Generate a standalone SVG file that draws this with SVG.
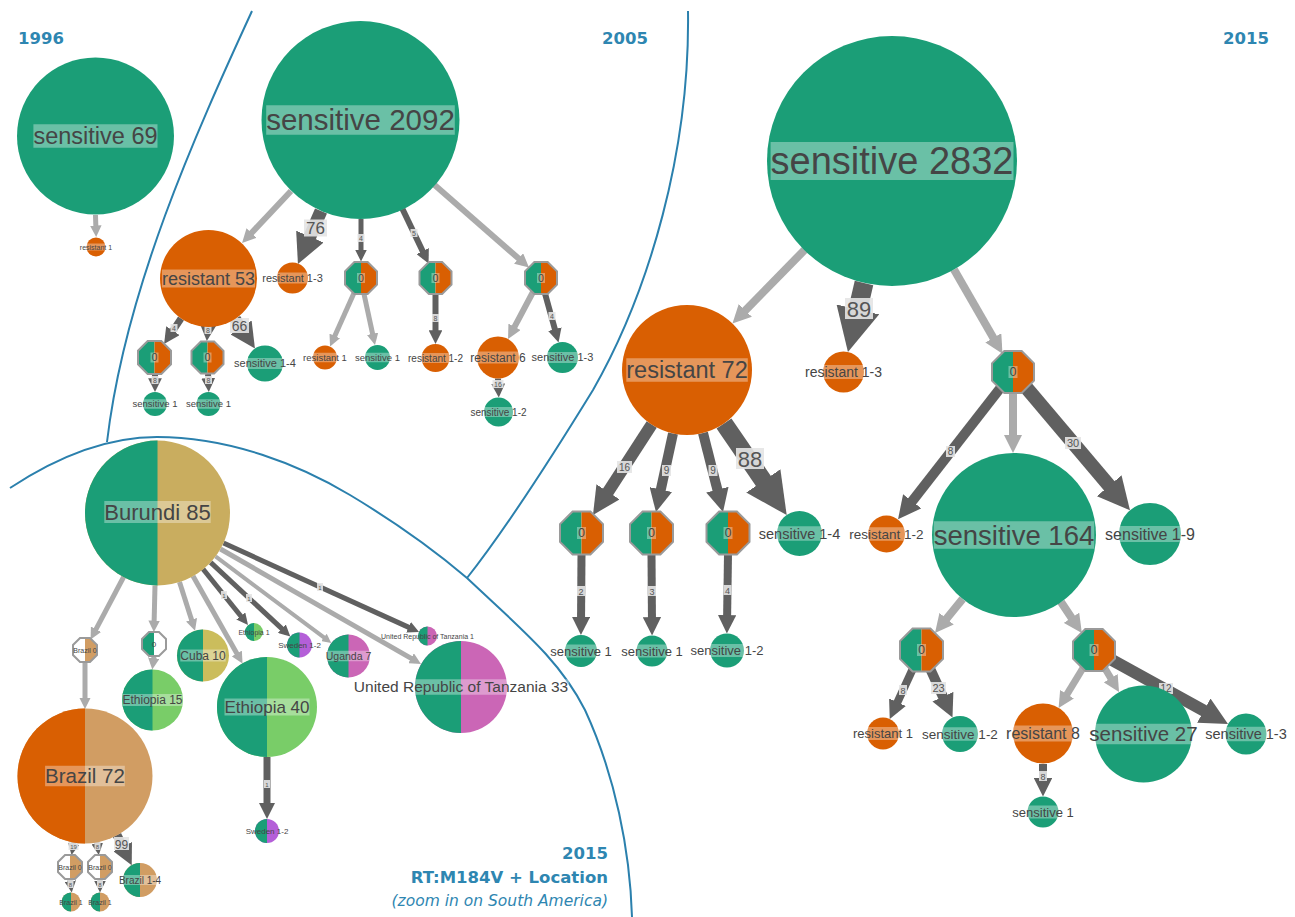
<svg xmlns="http://www.w3.org/2000/svg" xmlns:xlink="http://www.w3.org/1999/xlink" width="1295" height="917" viewBox="0 0 1295 917">
<style>
.g{fill:#1b9e77}.o{fill:#d95f02}.w{fill:#ffffff}.bt{fill:#c9ad5f}.bz{fill:#d19d63}.lg{fill:#79cd68}.cu{fill:#cbbd5c}.tz{fill:#cb66b6}.sw{fill:#b45fd8}
.lab{font-family:"Liberation Sans",Arial,sans-serif;fill:#454545;text-anchor:middle}
.lb{fill:#ffffff;opacity:.35}
.el{stroke:#ababab;fill:none}
.ed{stroke:#606060;fill:none}
.et{font-family:"Liberation Sans",Arial,sans-serif;fill:#555;text-anchor:middle}
.eb{fill:#e4e4e4;opacity:.9}
.yr{font-family:"DejaVu Sans",sans-serif;font-weight:bold;fill:#2e86b1;font-size:16.5px}
.yi{font-family:"DejaVu Sans",sans-serif;font-style:italic;fill:#2e86b1;font-size:15.5px}
.div{stroke:#2b80ad;stroke-width:2;fill:none}
</style>
<defs>
<marker id="mL" viewBox="0 0 10 10" refX="5" refY="5" markerWidth="2.3" markerHeight="2.3" orient="auto" markerUnits="strokeWidth"><path d="M0,0L10,5L0,10z" fill="#ababab"/></marker>
<marker id="mD" viewBox="0 0 10 10" refX="5" refY="5" markerWidth="2.3" markerHeight="2.3" orient="auto" markerUnits="strokeWidth"><path d="M0,0L10,5L0,10z" fill="#606060"/></marker>
<polygon id="octL" points="0,-1 -0.414,-1 -1,-0.414 -1,0.414 -0.414,1 0,1"/>
<polygon id="octR" points="0,-1 0.414,-1 1,-0.414 1,0.414 0.414,1 0,1"/>
<polygon id="octO" points="-0.414,-1 0.414,-1 1,-0.414 1,0.414 0.414,1 -0.414,1 -1,0.414 -1,-0.414" fill="none" stroke="#9a9a9a" stroke-width="2" vector-effect="non-scaling-stroke"/>
</defs>
<rect width="1295" height="917" fill="#ffffff"/>

<g id="dividers">
<path class="div" d="M252,11 C195,135 125,290 107,442"/>
<path class="div" d="M688,11 C690,150 650,290 593,390 C550,460 505,530 467,578"/>
<path class="div" d="M10,488 C60,455 110,437 157,437 C230,437 300,465 350,495 C400,525 440,555 467,578 C520,628 560,660 585,710 C615,775 630,850 632,917"/>
</g>

<g id="titles">
<text class="yr" x="18" y="44">1996</text>
<text class="yr" x="648" y="44" text-anchor="end">2005</text>
<text class="yr" x="1269" y="44" text-anchor="end">2015</text>
<text class="yr" x="608" y="859" text-anchor="end">2015</text>
<text class="yr" x="608" y="883" text-anchor="end">RT:M184V + Location</text>
<text class="yi" x="608" y="906" text-anchor="end">(zoom in on South America)</text>
</g>

<g id="connectors">
<g marker-end="url(#mL)">
<line class="el" x1="95.5" y1="215" x2="96" y2="231.2" stroke-width="5"/>
<line class="el" x1="291" y1="191" x2="246.8" y2="238" stroke-width="6"/>
<line class="el" x1="434.6" y1="185" x2="523.8" y2="263" stroke-width="6"/>
<line class="el" x1="354" y1="293" x2="332.4" y2="341.2" stroke-width="5"/>
<line class="el" x1="364" y1="294" x2="373.8" y2="339.4" stroke-width="5"/>
<line class="el" x1="533" y1="292" x2="511.3" y2="332.9" stroke-width="6"/>
<line class="el" x1="804.5" y1="250" x2="738.9" y2="317" stroke-width="8"/>
<line class="el" x1="954" y1="269.5" x2="997.9" y2="345.8" stroke-width="8"/>
<line class="el" x1="1013" y1="393" x2="1013" y2="443.8" stroke-width="8"/>
<line class="el" x1="962.6" y1="599" x2="940.8" y2="625.8" stroke-width="8"/>
<line class="el" x1="1061" y1="602" x2="1076.7" y2="625.4" stroke-width="8"/>
<line class="el" x1="1083" y1="668" x2="1062.8" y2="701.1" stroke-width="7"/>
<line class="el" x1="1104.7" y1="668" x2="1114.9" y2="685.1" stroke-width="7"/>
<line class="el" x1="123.6" y1="577" x2="93.3" y2="634.3" stroke-width="5"/>
<line class="el" x1="85" y1="662" x2="85" y2="703.3" stroke-width="5"/>
<line class="el" x1="155" y1="585.5" x2="154" y2="626.3" stroke-width="5"/>
<line class="el" x1="154" y1="656" x2="153" y2="663.8" stroke-width="5"/>
<line class="el" x1="179.5" y1="582" x2="193.3" y2="625.2" stroke-width="5"/>
<line class="el" x1="193" y1="576" x2="239.7" y2="658.5" stroke-width="5"/>
<line class="el" x1="215.5" y1="556.4" x2="327.6" y2="640.2" stroke-width="4"/>
<line class="el" x1="220.4" y1="549" x2="416" y2="661.1" stroke-width="5"/>
</g>
<g marker-end="url(#mD)">
<line class="ed" x1="321" y1="211" x2="303.9" y2="250.3" stroke-width="13"/>
<line class="ed" x1="361" y1="219" x2="361" y2="255.8" stroke-width="5"/>
<line class="ed" x1="402.5" y1="209" x2="425.6" y2="257.3" stroke-width="6"/>
<line class="ed" x1="435.5" y1="294" x2="435.5" y2="337.1" stroke-width="6"/>
<line class="ed" x1="545" y1="293.5" x2="556.7" y2="335.8" stroke-width="6"/>
<line class="ed" x1="498" y1="378.5" x2="498.5" y2="390.6" stroke-width="6"/>
<line class="ed" x1="181" y1="318.5" x2="168.5" y2="337.4" stroke-width="7"/>
<line class="ed" x1="208" y1="327" x2="207.5" y2="333" stroke-width="7"/>
<line class="ed" x1="235.5" y1="319" x2="248" y2="338" stroke-width="11"/>
<line class="ed" x1="155" y1="374" x2="155" y2="385.1" stroke-width="6"/>
<line class="ed" x1="208" y1="374" x2="208.5" y2="385.1" stroke-width="6"/>
<line class="ed" x1="864" y1="283" x2="852.9" y2="330.7" stroke-width="19"/>
<line class="ed" x1="1000" y1="388.5" x2="905.1" y2="510.3" stroke-width="10"/>
<line class="ed" x1="1026.6" y1="388" x2="1119.6" y2="498" stroke-width="14"/>
<line class="ed" x1="651.7" y1="424.6" x2="600.5" y2="503.4" stroke-width="12"/>
<line class="ed" x1="673" y1="433.5" x2="658.4" y2="500.8" stroke-width="10"/>
<line class="ed" x1="703" y1="433" x2="720.2" y2="500.8" stroke-width="10"/>
<line class="ed" x1="724" y1="423.5" x2="775" y2="498" stroke-width="18"/>
<line class="ed" x1="581.5" y1="554" x2="581" y2="625.8" stroke-width="8"/>
<line class="ed" x1="651.5" y1="554" x2="652" y2="626.3" stroke-width="8"/>
<line class="ed" x1="728" y1="554" x2="727" y2="624.3" stroke-width="8"/>
<line class="ed" x1="912.5" y1="669.5" x2="893.6" y2="710.6" stroke-width="8"/>
<line class="ed" x1="930.5" y1="669.5" x2="947.7" y2="707.1" stroke-width="10"/>
<line class="ed" x1="1112" y1="660" x2="1215.9" y2="717.3" stroke-width="12"/>
<line class="ed" x1="1043" y1="764" x2="1043" y2="787.3" stroke-width="8"/>
<line class="ed" x1="203" y1="569" x2="244.4" y2="620.5" stroke-width="5"/>
<line class="ed" x1="210.6" y1="562.4" x2="286.1" y2="632.6" stroke-width="5"/>
<line class="ed" x1="223.5" y1="543" x2="413.8" y2="629.6" stroke-width="5"/>
<line class="ed" x1="267" y1="757" x2="267" y2="811" stroke-width="7"/>
<line class="ed" x1="74" y1="842" x2="72.6" y2="849.3" stroke-width="5"/>
<line class="ed" x1="97" y1="842" x2="98" y2="849.3" stroke-width="5"/>
<line class="ed" x1="117" y1="835" x2="127.2" y2="855.9" stroke-width="9"/>
<line class="ed" x1="70" y1="879" x2="71" y2="886.8" stroke-width="5"/>
<line class="ed" x1="100" y1="879" x2="100" y2="886.8" stroke-width="5"/>
</g>
<g id="edge-labels">
<rect class="eb" x="304" y="219.5" width="23" height="17"/><text class="et" x="315.5" y="234" font-size="17">76</text>
<rect class="eb" x="230" y="318" width="19" height="15"/><text class="et" x="239.5" y="330.5" font-size="14">66</text>
<rect class="eb" x="845" y="298" width="28" height="21"/><text class="et" x="859" y="316.5" font-size="22">89</text>
<rect class="eb" x="736" y="448" width="28" height="21"/><text class="et" x="750" y="466.5" font-size="22">88</text>
<rect class="eb" x="114" y="837" width="15" height="13"/><text class="et" x="121.5" y="848.5" font-size="12">99</text>
<rect class="eb" x="357.5" y="234" width="7" height="8"/><text class="et" x="361" y="240.5" font-size="7">4</text>
<rect class="eb" x="410.5" y="229" width="7" height="8"/><text class="et" x="414" y="235.5" font-size="7">5</text>
<rect class="eb" x="432" y="314" width="7" height="8"/><text class="et" x="435.5" y="320.5" font-size="7">8</text>
<rect class="eb" x="548.5" y="312" width="7" height="8"/><text class="et" x="552" y="318.5" font-size="7">4</text>
<rect class="eb" x="492.5" y="380" width="11" height="8"/><text class="et" x="498" y="386.5" font-size="7">16</text>
<rect class="eb" x="170.5" y="324" width="7" height="8"/><text class="et" x="174" y="330.5" font-size="7">4</text>
<rect class="eb" x="204.5" y="326" width="7" height="8"/><text class="et" x="208" y="332.5" font-size="7">8</text>
<rect class="eb" x="151.5" y="376" width="7" height="8"/><text class="et" x="155" y="382.5" font-size="7">8</text>
<rect class="eb" x="205" y="376" width="7" height="8"/><text class="et" x="208.5" y="382.5" font-size="7">8</text>
<rect class="eb" x="946" y="446" width="9" height="11"/><text class="et" x="950.5" y="455" font-size="10">8</text>
<rect class="eb" x="1065" y="437" width="16" height="12"/><text class="et" x="1073" y="447" font-size="11">30</text>
<rect class="eb" x="617" y="461" width="15" height="12"/><text class="et" x="624.5" y="471" font-size="10">16</text>
<rect class="eb" x="662" y="465" width="9" height="11"/><text class="et" x="666.5" y="474" font-size="10">9</text>
<rect class="eb" x="708.5" y="465" width="9" height="11"/><text class="et" x="713" y="474" font-size="10">9</text>
<rect class="eb" x="577" y="586" width="8" height="10"/><text class="et" x="581" y="594.5" font-size="9">2</text>
<rect class="eb" x="648" y="586" width="8" height="10"/><text class="et" x="652" y="594.5" font-size="9">3</text>
<rect class="eb" x="723.5" y="585" width="8" height="10"/><text class="et" x="727.5" y="593.5" font-size="9">4</text>
<rect class="eb" x="899" y="685" width="8" height="10"/><text class="et" x="903" y="693.5" font-size="9">8</text>
<rect class="eb" x="931" y="682" width="15" height="12"/><text class="et" x="938.5" y="692" font-size="11">23</text>
<rect class="eb" x="1159" y="683" width="14" height="11"/><text class="et" x="1166" y="692" font-size="10">12</text>
<rect class="eb" x="1039" y="771" width="8" height="10"/><text class="et" x="1043" y="779.5" font-size="9">8</text>
<rect class="eb" x="221" y="591" width="6" height="8"/><text class="et" x="224" y="597.5" font-size="6">1</text>
<rect class="eb" x="246" y="594" width="6" height="8"/><text class="et" x="249" y="600.5" font-size="6">1</text>
<rect class="eb" x="317" y="583" width="6" height="8"/><text class="et" x="320" y="589.5" font-size="6">1</text>
<rect class="eb" x="264" y="780" width="6" height="8"/><text class="et" x="267" y="786.5" font-size="6">1</text>
<rect class="eb" x="68.5" y="842" width="10" height="8"/><text class="et" x="73.5" y="848.5" font-size="6">19</text>
<rect class="eb" x="94.5" y="842" width="6" height="8"/><text class="et" x="97.5" y="848.5" font-size="6">8</text>
<rect class="eb" x="67.5" y="880" width="6" height="8"/><text class="et" x="70.5" y="886.5" font-size="6">8</text>
<rect class="eb" x="97" y="880" width="6" height="8"/><text class="et" x="100" y="886.5" font-size="6">8</text>
</g>
</g>

<g id="nodes">
<!-- 1996 -->
<g id="n1996-s69"><circle class="g" cx="95.5" cy="136" r="78.5"/><rect class="lb" x="33.4" y="124.25" width="124.1" height="23.5"/><text class="lab" x="95.5" y="144.2" font-size="23.5">sensitive 69</text></g>
<g id="n1996-r1"><circle class="o" cx="96" cy="247" r="9.5"/><rect class="lb" x="79.9" y="243.5" width="32.3" height="7"/><text class="lab" x="96" y="249.5" font-size="7">resistant 1</text></g>

<!-- 2005 -->
<g id="n2005-s2092"><circle class="g" cx="360.5" cy="120" r="99"/><rect class="lb" x="266.2" y="105.25" width="188.6" height="29.5"/><text class="lab" x="360.5" y="130.3" font-size="29.5">sensitive 2092</text></g>
<g id="n2005-r53"><circle class="o" cx="208.5" cy="278.5" r="48.5"/><rect class="lb" x="162" y="269.5" width="93" height="18"/><text class="lab" x="208.5" y="284.8" font-size="18">resistant 53</text></g>
<g id="n2005-r13"><circle class="o" cx="292.5" cy="278" r="15.5"/><rect class="lb" x="262.2" y="272.5" width="60.5" height="11"/><text class="lab" x="292.5" y="281.9" font-size="11">resistant 1-3</text></g>
<g id="n2005-octA"><use href="#octL" class="g" transform="translate(361,278) scale(16)"/><use href="#octR" class="o" transform="translate(361,278) scale(16)"/><use href="#octO" transform="translate(361,278) scale(16)"/><rect class="lb" x="357" y="273" width="8" height="10"/><text class="lab" x="361" y="281.5" font-size="10">0</text></g>
<g id="n2005-octB"><use href="#octL" class="g" transform="translate(435.5,278) scale(16)"/><use href="#octR" class="o" transform="translate(435.5,278) scale(16)"/><use href="#octO" transform="translate(435.5,278) scale(16)"/><rect class="lb" x="431.5" y="273" width="8" height="10"/><text class="lab" x="435.5" y="281.5" font-size="10">0</text></g>
<g id="n2005-octC"><use href="#octL" class="g" transform="translate(541,278) scale(16)"/><use href="#octR" class="o" transform="translate(541,278) scale(16)"/><use href="#octO" transform="translate(541,278) scale(16)"/><rect class="lb" x="537" y="273" width="8" height="10"/><text class="lab" x="541" y="281.5" font-size="10">0</text></g>
<g id="n2005-r1"><circle class="o" cx="325" cy="357.5" r="12"/><rect class="lb" x="303.1" y="352.75" width="43.8" height="9.5"/><text class="lab" x="325" y="360.8" font-size="9.5">resistant 1</text></g>
<g id="n2005-s1a"><circle class="g" cx="377.5" cy="357.5" r="12.5"/><rect class="lb" x="355" y="352.75" width="44.9" height="9.5"/><text class="lab" x="377.5" y="360.8" font-size="9.5">sensitive 1</text></g>
<g id="n2005-r12"><circle class="o" cx="435.5" cy="358" r="14"/><rect class="lb" x="408" y="353" width="55" height="10"/><text class="lab" x="435.5" y="361.5" font-size="10">resistant 1-2</text></g>
<g id="n2005-r6"><circle class="o" cx="498" cy="357.5" r="21"/><rect class="lb" x="470.3" y="351.5" width="55.4" height="12"/><text class="lab" x="498" y="361.7" font-size="12">resistant 6</text></g>
<g id="n2005-s13"><circle class="g" cx="562.5" cy="357.5" r="15.5"/><rect class="lb" x="531.6" y="352" width="61.7" height="11"/><text class="lab" x="562.5" y="361.4" font-size="11">sensitive 1-3</text></g>
<g id="n2005-s12"><circle class="g" cx="498.5" cy="412" r="14.5"/><rect class="lb" x="470.4" y="407" width="56.1" height="10"/><text class="lab" x="498.5" y="415.5" font-size="10">sensitive 1-2</text></g>
<g id="n2005-octD"><use href="#octL" class="g" transform="translate(154.5,357.5) scale(16.5)"/><use href="#octR" class="o" transform="translate(154.5,357.5) scale(16.5)"/><use href="#octO" transform="translate(154.5,357.5) scale(16.5)"/><rect class="lb" x="150.5" y="352.5" width="8" height="10"/><text class="lab" x="154.5" y="361" font-size="10">0</text></g>
<g id="n2005-octE"><use href="#octL" class="g" transform="translate(207.5,357.5) scale(16)"/><use href="#octR" class="o" transform="translate(207.5,357.5) scale(16)"/><use href="#octO" transform="translate(207.5,357.5) scale(16)"/><rect class="lb" x="203.5" y="352.5" width="8" height="10"/><text class="lab" x="207.5" y="361" font-size="10">0</text></g>
<g id="n2005-s14"><circle class="g" cx="265" cy="363.5" r="18"/><rect class="lb" x="234.1" y="358" width="61.7" height="11"/><text class="lab" x="265" y="367.4" font-size="11">sensitive 1-4</text></g>
<g id="n2005-s1d"><circle class="g" cx="155" cy="404" r="12"/><rect class="lb" x="132.5" y="399.25" width="44.9" height="9.5"/><text class="lab" x="155" y="407.3" font-size="9.5">sensitive 1</text></g>
<g id="n2005-s1e"><circle class="g" cx="208.5" cy="404" r="12"/><rect class="lb" x="186" y="399.25" width="44.9" height="9.5"/><text class="lab" x="208.5" y="407.3" font-size="9.5">sensitive 1</text></g>

<!-- 2015 -->
<g id="n2015-s2832"><circle class="g" cx="892" cy="161" r="125"/><rect class="lb" x="770.6" y="142" width="242.9" height="38"/><text class="lab" x="892" y="174.3" font-size="38">sensitive 2832</text></g>
<g id="n2015-r72"><circle class="o" cx="687" cy="370" r="65"/><rect class="lb" x="626.3" y="358.25" width="121.5" height="23.5"/><text class="lab" x="687" y="378.2" font-size="23.5">resistant 72</text></g>
<g id="n2015-r13"><circle class="o" cx="843.5" cy="372" r="20.5"/><rect class="lb" x="805" y="365" width="77" height="14"/><text class="lab" x="843.5" y="376.9" font-size="14">resistant 1-3</text></g>
<g id="n2015-octF"><use href="#octL" class="g" transform="translate(1013,372) scale(21)"/><use href="#octR" class="o" transform="translate(1013,372) scale(21)"/><use href="#octO" transform="translate(1013,372) scale(21)"/><rect class="lb" x="1008.5" y="366" width="9" height="12"/><text class="lab" x="1013" y="376.2" font-size="12">0</text></g>
<g id="n2015-s164"><circle class="g" cx="1014" cy="535" r="82"/><rect class="lb" x="933.75" y="521.25" width="160.5" height="27.5"/><text class="lab" x="1014" y="544.6" font-size="27.5">sensitive 164</text></g>
<g id="n2015-r12"><circle class="o" cx="886.5" cy="534" r="18.5"/><rect class="lb" x="849.4" y="527.25" width="74.3" height="13.5"/><text class="lab" x="886.5" y="538.7" font-size="13.5">resistant 1-2</text></g>
<g id="n2015-s19"><circle class="g" cx="1150" cy="534" r="31"/><rect class="lb" x="1105.1" y="526" width="89.8" height="16"/><text class="lab" x="1150" y="539.6" font-size="16">sensitive 1-9</text></g>
<g id="n2015-octG"><use href="#octL" class="g" transform="translate(581.5,533) scale(21.5)"/><use href="#octR" class="o" transform="translate(581.5,533) scale(21.5)"/><use href="#octO" transform="translate(581.5,533) scale(21.5)"/><rect class="lb" x="577" y="527" width="9" height="12"/><text class="lab" x="581.5" y="537.2" font-size="12">0</text></g>
<g id="n2015-octH"><use href="#octL" class="g" transform="translate(651.5,533) scale(21.5)"/><use href="#octR" class="o" transform="translate(651.5,533) scale(21.5)"/><use href="#octO" transform="translate(651.5,533) scale(21.5)"/><rect class="lb" x="647" y="527" width="9" height="12"/><text class="lab" x="651.5" y="537.2" font-size="12">0</text></g>
<g id="n2015-octI"><use href="#octL" class="g" transform="translate(728,533) scale(21.5)"/><use href="#octR" class="o" transform="translate(728,533) scale(21.5)"/><use href="#octO" transform="translate(728,533) scale(21.5)"/><rect class="lb" x="723.5" y="527" width="9" height="12"/><text class="lab" x="728" y="537.2" font-size="12">0</text></g>
<g id="n2015-s14"><circle class="g" cx="799.5" cy="533.5" r="22.5"/><rect class="lb" x="758.8" y="526.25" width="81.4" height="14.5"/><text class="lab" x="799.5" y="538.6" font-size="14.5">sensitive 1-4</text></g>
<g id="n2015-s1g"><circle class="g" cx="581" cy="651" r="16"/><rect class="lb" x="550.3" y="644.5" width="61.4" height="13"/><text class="lab" x="581" y="655.6" font-size="13">sensitive 1</text></g>
<g id="n2015-s1h"><circle class="g" cx="652" cy="651" r="15.5"/><rect class="lb" x="621.3" y="644.5" width="61.4" height="13"/><text class="lab" x="652" y="655.6" font-size="13">sensitive 1</text></g>
<g id="n2015-s12i"><circle class="g" cx="727" cy="650.5" r="17"/><rect class="lb" x="690.5" y="644" width="73" height="13"/><text class="lab" x="727" y="655.1" font-size="13">sensitive 1-2</text></g>
<g id="n2015-octJ"><use href="#octL" class="g" transform="translate(921.5,650) scale(21.5)"/><use href="#octR" class="o" transform="translate(921.5,650) scale(21.5)"/><use href="#octO" transform="translate(921.5,650) scale(21.5)"/><rect class="lb" x="917" y="644" width="9" height="12"/><text class="lab" x="921.5" y="654.2" font-size="12">0</text></g>
<g id="n2015-octK"><use href="#octL" class="g" transform="translate(1094,650) scale(21)"/><use href="#octR" class="o" transform="translate(1094,650) scale(21)"/><use href="#octO" transform="translate(1094,650) scale(21)"/><rect class="lb" x="1089.5" y="644" width="9" height="12"/><text class="lab" x="1094" y="654.2" font-size="12">0</text></g>
<g id="n2015-r1"><circle class="o" cx="883" cy="733.5" r="16"/><rect class="lb" x="853" y="727" width="60" height="13"/><text class="lab" x="883" y="738.1" font-size="13">resistant 1</text></g>
<g id="n2015-s12j"><circle class="g" cx="960" cy="734" r="18"/><rect class="lb" x="922.1" y="727.25" width="75.8" height="13.5"/><text class="lab" x="960" y="738.7" font-size="13.5">sensitive 1-2</text></g>
<g id="n2015-r8"><circle class="o" cx="1043" cy="733.5" r="30"/><rect class="lb" x="1006.1" y="725.5" width="73.8" height="16"/><text class="lab" x="1043" y="739.1" font-size="16">resistant 8</text></g>
<g id="n2015-s27"><circle class="g" cx="1143.5" cy="734" r="48.5"/><rect class="lb" x="1089.4" y="723.75" width="108.2" height="20.5"/><text class="lab" x="1143.5" y="741.2" font-size="20.5">sensitive 27</text></g>
<g id="n2015-s13"><circle class="g" cx="1246" cy="734" r="20.5"/><rect class="lb" x="1205.3" y="726.75" width="81.4" height="14.5"/><text class="lab" x="1246" y="739.1" font-size="14.5">sensitive 1-3</text></g>
<g id="n2015-s1r8"><circle class="g" cx="1043" cy="812" r="15.5"/><rect class="lb" x="1012.3" y="805.5" width="61.4" height="13"/><text class="lab" x="1043" y="816.6" font-size="13">sensitive 1</text></g>

<!-- South America zoom -->
<g id="loc-burundi85"><circle class="bt" cx="157.5" cy="513" r="72.5"/><path class="g" d="M157.5,440.5 A72.5,72.5 0 0 0 157.5,585.5Z"/><rect class="lb" x="104.3" y="501" width="106.4" height="22"/><text class="lab" x="157.5" y="519.7" font-size="22">Burundi 85</text></g>
<g id="loc-brazil0a"><use href="#octL" class="w" transform="translate(85,650) scale(12)"/><use href="#octR" class="bz" transform="translate(85,650) scale(12)"/><use href="#octO" transform="translate(85,650) scale(12)"/><text class="lab" x="85" y="652.5" font-size="7">Brazil 0</text></g>
<g id="loc-oct0"><use href="#octL" class="g" transform="translate(154,644) scale(12)"/><use href="#octR" class="w" transform="translate(154,644) scale(12)"/><use href="#octO" transform="translate(154,644) scale(12)"/><text class="lab" x="154" y="646.8" font-size="8">0</text></g>
<g id="loc-cuba10"><circle class="cu" cx="203" cy="655.5" r="26"/><path class="g" d="M203,629.5 A26,26 0 0 0 203,681.5Z"/><rect class="lb" x="180.3" y="649.5" width="45.4" height="12"/><text class="lab" x="203" y="659.7" font-size="12">Cuba 10</text></g>
<g id="loc-ethiopia1"><circle class="lg" cx="254" cy="632" r="9"/><path class="g" d="M254,623 A9,9 0 0 0 254,641Z"/><text class="lab" x="254" y="634.5" font-size="7">Ethiopia 1</text></g>
<g id="loc-sweden12a"><circle class="sw" cx="299.5" cy="645" r="12.5"/><path class="g" d="M299.5,632.5 A12.5,12.5 0 0 0 299.5,657.5Z"/><text class="lab" x="299.5" y="647.8" font-size="8">Sweden 1-2</text></g>
<g id="loc-uganda7"><circle class="tz" cx="348.5" cy="656" r="21.5"/><path class="g" d="M348.5,634.5 A21.5,21.5 0 0 0 348.5,677.5Z"/><rect class="lb" x="325.7" y="650.75" width="45.5" height="10.5"/><text class="lab" x="348.5" y="659.7" font-size="10.5">Uganda 7</text></g>
<g id="loc-tanzania1"><circle class="tz" cx="427.5" cy="636" r="9.5"/><path class="g" d="M427.5,626.5 A9.5,9.5 0 0 0 427.5,645.5Z"/><text class="lab" x="427.5" y="638.5" font-size="7">United Republic of Tanzania 1</text></g>
<g id="loc-tanzania33"><circle class="tz" cx="461" cy="687" r="46"/><path class="g" d="M461,641 A46,46 0 0 0 461,733Z"/><rect class="lb" x="352.9" y="679.25" width="216.2" height="15.5"/><text class="lab" x="461" y="692.4" font-size="15.5">United Republic of Tanzania 33</text></g>
<g id="loc-ethiopia40"><circle class="lg" cx="267" cy="707" r="50"/><path class="g" d="M267,657 A50,50 0 0 0 267,757Z"/><rect class="lb" x="224.5" y="698.5" width="85" height="17"/><text class="lab" x="267" y="713" font-size="17">Ethiopia 40</text></g>
<g id="loc-sweden12b"><circle class="sw" cx="267" cy="831" r="12"/><path class="g" d="M267,819 A12,12 0 0 0 267,843Z"/><text class="lab" x="267" y="833.8" font-size="8">Sweden 1-2</text></g>
<g id="loc-ethiopia15"><circle class="lg" cx="152.5" cy="700" r="30.5"/><path class="g" d="M152.5,669.5 A30.5,30.5 0 0 0 152.5,730.5Z"/><rect class="lb" x="122.5" y="694" width="60" height="12"/><text class="lab" x="152.5" y="704.2" font-size="12">Ethiopia 15</text></g>
<g id="loc-brazil72"><circle class="bz" cx="85" cy="776" r="67.5"/><path class="o" d="M85,708.5 A67.5,67.5 0 0 0 85,843.5Z"/><rect class="lb" x="45.1" y="765.75" width="79.7" height="20.5"/><text class="lab" x="85" y="783.2" font-size="20.5">Brazil 72</text></g>
<g id="loc-brazil0b"><use href="#octL" class="w" transform="translate(70,867) scale(12)"/><use href="#octR" class="bz" transform="translate(70,867) scale(12)"/><use href="#octO" transform="translate(70,867) scale(12)"/><text class="lab" x="70" y="869.5" font-size="7">Brazil 0</text></g>
<g id="loc-brazil0c"><use href="#octL" class="w" transform="translate(100,867) scale(12)"/><use href="#octR" class="bz" transform="translate(100,867) scale(12)"/><use href="#octO" transform="translate(100,867) scale(12)"/><text class="lab" x="100" y="869.5" font-size="7">Brazil 0</text></g>
<g id="loc-brazil14"><circle class="bz" cx="140" cy="880" r="17"/><path class="g" d="M140,863 A17,17 0 0 0 140,897Z"/><rect class="lb" x="118.9" y="875" width="42.2" height="10"/><text class="lab" x="140" y="883.5" font-size="10">Brazil 1-4</text></g>
<g id="loc-brazil1a"><circle class="bz" cx="71" cy="902" r="9.5"/><path class="g" d="M71,892.5 A9.5,9.5 0 0 0 71,911.5Z"/><text class="lab" x="71" y="904.5" font-size="7">Brazil 1</text></g>
<g id="loc-brazil1b"><circle class="bz" cx="100" cy="902" r="9.5"/><path class="g" d="M100,892.5 A9.5,9.5 0 0 0 100,911.5Z"/><text class="lab" x="100" y="904.5" font-size="7">Brazil 1</text></g>
</g>
</svg>
